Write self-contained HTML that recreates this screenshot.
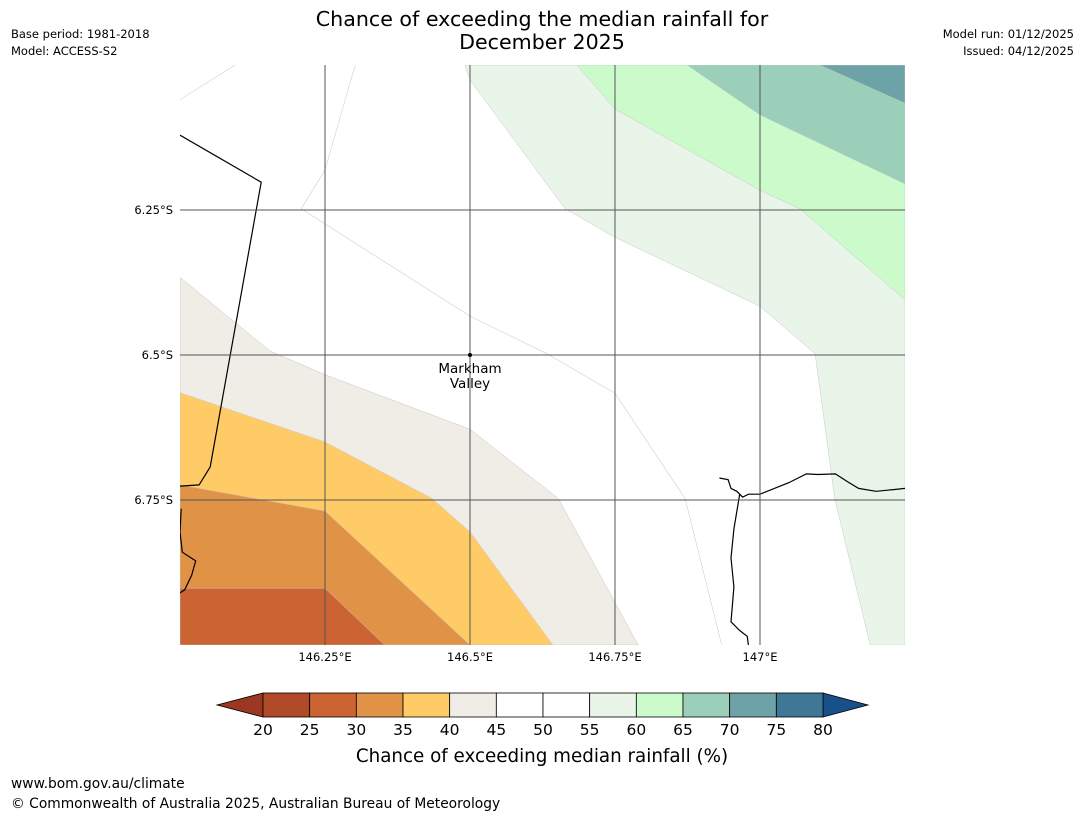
<!DOCTYPE html>
<html><head><meta charset="utf-8"><style>
body{margin:0;background:#fff;font-family:"DejaVu Sans","Liberation Sans",sans-serif;}
svg{display:block}
</style></head><body>
<svg id="chart" width="1085" height="816" viewBox="0 0 1085 816" font-family="DejaVu Sans, Liberation Sans, sans-serif">
<text x="542" y="26" text-anchor="middle" font-size="20.6">Chance of exceeding the median rainfall for</text>
<text x="542" y="49" text-anchor="middle" font-size="20.6">December 2025</text>
<text x="11" y="38" font-size="11.5">Base period: 1981-2018</text>
<text x="11" y="55" font-size="11.5">Model: ACCESS-S2</text>
<text x="1074" y="38" font-size="11.5" text-anchor="end">Model run: 01/12/2025</text>
<text x="1074" y="55" font-size="11.5" text-anchor="end">Issued: 04/12/2025</text>
<defs><clipPath id="mapclip"><rect x="180" y="65" width="725" height="580"/></clipPath></defs>
<g id="map" clip-path="url(#mapclip)"></g>
<g id="grid"></g>
<g id="cbar"></g>
<text x="542" y="762" text-anchor="middle" font-size="18.3">Chance of exceeding median rainfall (%)</text>
<text x="11" y="788" font-size="13.8">www.bom.gov.au/climate</text>
<text x="11" y="808" font-size="13.8">© Commonwealth of Australia 2025, Australian Bureau of Meteorology</text>
</svg>
<script>
// Map extent: lon 146.0–147.25 E, lat 6.0–7.0 S
const lonTicks=[146.25,146.5,146.75,147.0];
const lonLabels=["146.25°E","146.5°E","146.75°E","147°E"];
const latTicks=[6.25,6.5,6.75];
const latLabels=["6.25°S","6.5°S","6.75°S"];
const levels=[20,25,30,35,40,45,50,55,60,65,70,75,80];
const levelColors=["#9c3722","#b04a26","#cb6432","#e09347","#fecb66","#f0ece6","#ffffff","#ffffff","#e9f5e9","#cbfbca","#9ccfb9","#6da3a6","#3f7797","#19508a"];
// contour polygons: [lon, lat(S)] vertex lists, with category index
const contourBands=[5,4,3,2,8,9,10,11];
const contourPolys=[
 [[146,6.366],[146.155,6.493],[146.25,6.534],[146.5,6.628],[146.652,6.747],[146.79,7],[146,7]],
 [[146,6.565],[146.25,6.65],[146.434,6.747],[146.5,6.805],[146.643,7],[146,7]],
 [[146,6.724],[146.25,6.769],[146.5,7],[146,7]],
 [[146,6.902],[146.25,6.902],[146.353,7],[146,7]],
 [[146.491,6],[146.5,6.026],[146.664,6.248],[146.75,6.297],[147,6.416],[147.095,6.498],[147.129,6.748],[147.19,7],[147.25,7],[147.25,6]],
 [[146.684,6],[146.75,6.076],[147,6.216],[147.069,6.248],[147.25,6.405],[147.25,6]],
 [[146.874,6],[147,6.086],[147.25,6.205],[147.25,6]],
 [[147.103,6],[147.25,6.066],[147.25,6]]
];
const faintLines=[
 [[146,6.060],[146.095,6]],
 [[146.302,6],[146.25,6.181],[146.209,6.248],[146.5,6.433],[146.633,6.498],[146.75,6.566],[146.871,6.748],[146.934,7]]
];
const coastLines=[
 [[146,6.121],[146.140,6.202],[146.052,6.693],[146.033,6.724],[146,6.726]],
 [[146.002,6.765],[146.0,6.805],[146.004,6.840],[146.027,6.855],[146.02,6.880],[146.008,6.905],[146,6.91]],
 [[146.93,6.712],[146.945,6.715],[146.95,6.73],[146.96,6.735],[146.97,6.745],[146.98,6.74],[147.0,6.74],[147.05,6.72],[147.08,6.705],[147.1,6.706],[147.13,6.705],[147.15,6.718],[147.17,6.73],[147.2,6.735],[147.23,6.732],[147.25,6.73]],
 [[146.965,6.74],[146.955,6.8],[146.95,6.85],[146.955,6.9],[146.95,6.96],[146.965,6.975],[146.978,6.985],[146.98,7]]
];
const place={name:["Markham","Valley"],lon:146.5,lat:6.5};

const X=lon=>180+(lon-146)/1.25*725;
const Y=lat=>65+(lat-6)/1.0*580;
const NS="http://www.w3.org/2000/svg";
function mk(tag,attrs,parent){const e=document.createElementNS(NS,tag);for(const k in attrs)e.setAttribute(k,attrs[k]);parent.appendChild(e);return e;}
const map=document.getElementById('map'),grid=document.getElementById('grid'),cbar=document.getElementById('cbar');
const pts=p=>p.map(v=>X(v[0]).toFixed(1)+","+Y(v[1]).toFixed(1)).join(" ");
contourPolys.forEach((p,i)=>{
 const e=mk('polygon',{points:pts(p),fill:levelColors[contourBands[i]],stroke:'#c8c8c8','stroke-width':0.5},map);
 
 
});
faintLines.forEach(p=>{
 const e=mk('polyline',{points:pts(p),fill:'none',stroke:'#cfcfcf','stroke-width':0.6},map);
 
 
});
coastLines.forEach(p=>{
 const e=mk('polyline',{points:pts(p),fill:'none',stroke:'#000','stroke-width':1.2},map);
 
 
});
lonTicks.forEach((v,i)=>{
 const l=mk('line',{x1:X(v),x2:X(v),y1:65,y2:645,stroke:'#555','stroke-width':1},grid);
 
 
 const t=mk('text',{x:X(v),y:661,'text-anchor':'middle','font-size':11.5},grid);t.textContent=lonLabels[i];
 
 
});
latTicks.forEach((v,i)=>{
 const l=mk('line',{x1:180,x2:905,y1:Y(v),y2:Y(v),stroke:'#555','stroke-width':1},grid);
 
 
 const t=mk('text',{x:173,y:Y(v)+4,'text-anchor':'end','font-size':11.5},grid);t.textContent=latLabels[i];
 
 
});
const dot=mk('circle',{cx:X(place.lon),cy:Y(place.lat),r:2,fill:'#000'},grid);


place.name.forEach((s,i)=>{
 const t=mk('text',{x:X(place.lon),y:Y(place.lat)+18+i*15,'text-anchor':'middle','font-size':13.5},grid);t.textContent=s;
 
 
});
// colorbar
const cx0=263,cx1=823,cy0=693,cy1=717,n=levels.length-1,w=(cx1-cx0)/n;
const lt=mk('polygon',{points:`${cx0},${cy0} ${cx0},${cy1} 217,${(cy0+cy1)/2}`,fill:levelColors[0],stroke:'#000','stroke-width':0.8},cbar);


const rt=mk('polygon',{points:`${cx1},${cy0} ${cx1},${cy1} 868,${(cy0+cy1)/2}`,fill:levelColors[levelColors.length-1],stroke:'#000','stroke-width':0.8},cbar);


for(let i=0;i<n;i++){
 const r=mk('rect',{x:cx0+i*w,y:cy0,width:w,height:cy1-cy0,fill:levelColors[i+1],stroke:'#000','stroke-width':0.8},cbar);
 
 
}
levels.forEach((v,i)=>{
 const t=mk('text',{x:cx0+i*w,y:735,'text-anchor':'middle','font-size':15.5},cbar);t.textContent=v;
 
 
});
</script>
</body></html>
